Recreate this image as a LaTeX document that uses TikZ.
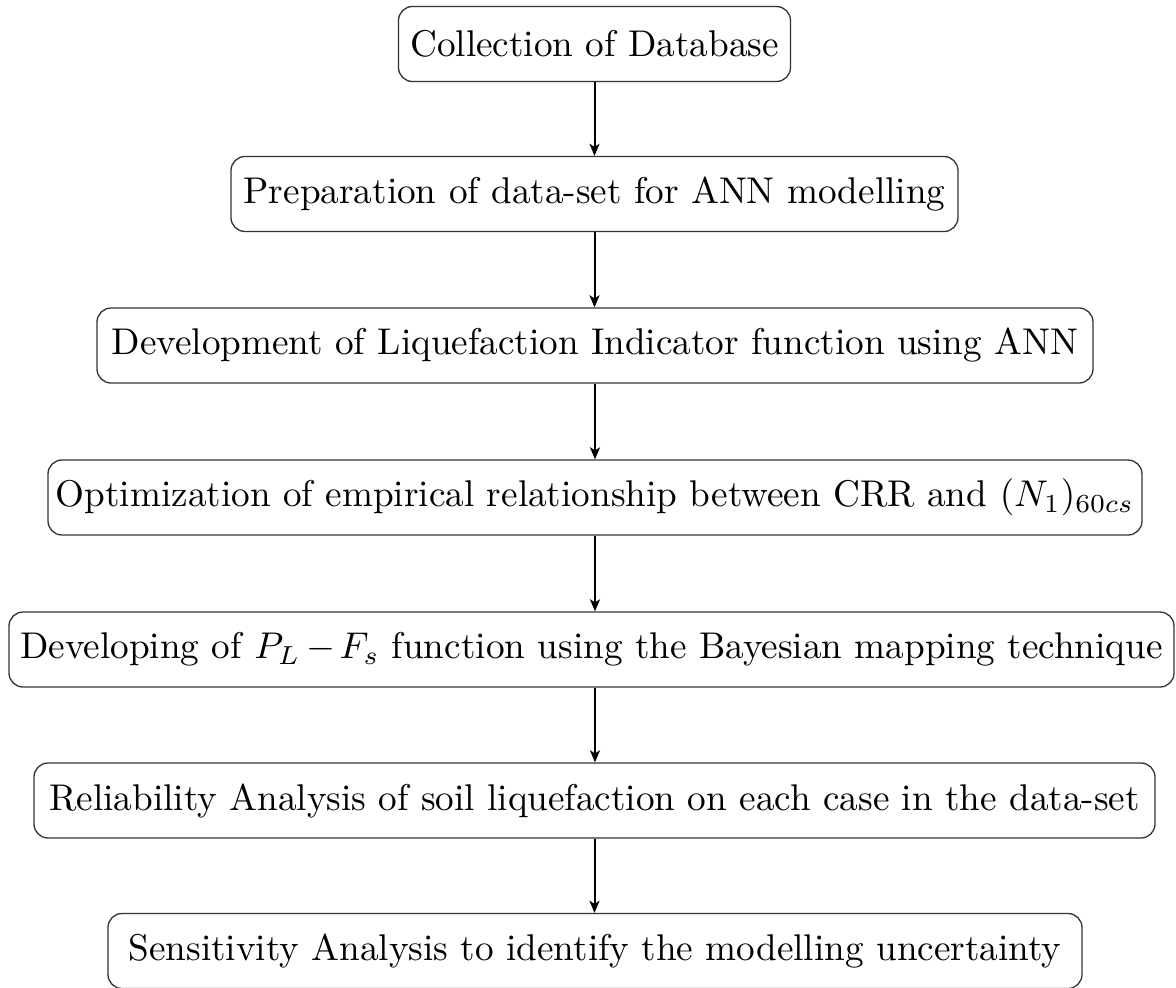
\documentclass[tikz,border=0pt]{standalone}
\usepackage{graphicx}
\usetikzlibrary{arrows.meta}
% stage labels: 10pt design size enlarged, for a heavier look
\newcommand{\stg}[1]{\scalebox{3.72}{#1}}
\begin{document}
\begin{tikzpicture}[x=1pt,y=-1pt,
  stage/.style={draw=black!80, line width=1.3pt, rounded corners=14pt,
    minimum height=75pt, inner sep=0pt, text=black},
  flow/.style={-{Stealth[length=12pt,width=10pt,inset=3pt]}, line width=2pt}]
\useasboundingbox (0,0) rectangle (1176,988);
\node[stage, minimum width=392pt]  (s1) at (594.5,44)  {\stg{Collection of Database}};
\node[stage, minimum width=727pt]  (s2) at (594.5,194) {\stg{Preparation of data-set for ANN modelling}};
\node[stage, minimum width=996pt]  (s3) at (595,345.5) {\stg{Development of Liquefaction Indicator function using ANN}};
\node[stage, minimum width=1094pt] (s4) at (595,497.5) {\stg{Optimization of empirical relationship between CRR and $(N_1)_{60cs}$}};
\node[stage, minimum width=1165pt] (s5) at (591.5,649.5) {\stg{Developing of $P_L\mkern3mu{-}\mkern2mu F_s$ function using the Bayesian mapping technique}};
\node[stage, minimum width=1121pt] (s6) at (594.5,800.5) {\stg{Reliability Analysis of soil liquefaction on each case in the data-set}};
\node[stage, minimum width=974pt]  (s7) at (595,951) {\stg{Sensitivity Analysis to identify the modelling uncertainty}};
\draw[flow] (s1.south) -- (s1.south |- s2.north);
\draw[flow] (s2.south) -- (s2.south |- s3.north);
\draw[flow] (s3.south) -- (s3.south |- s4.north);
\draw[flow] (s4.south) -- (s4.south |- s5.north);
\draw[flow] (s4.south |- s5.south) -- (s4.south |- s6.north);
\draw[flow] (s6.south) -- (s6.south |- s7.north);
\end{tikzpicture}
\end{document}
